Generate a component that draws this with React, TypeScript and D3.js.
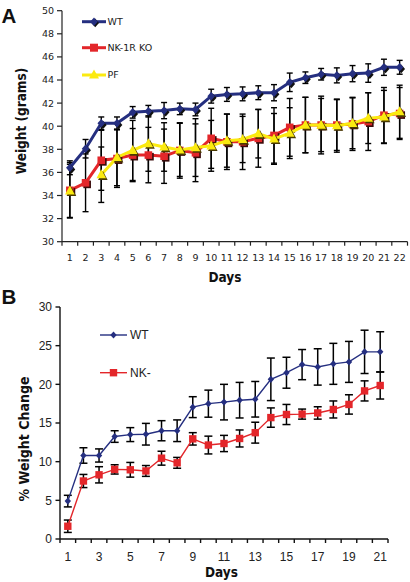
import React from "react";
import * as d3 from "d3";

// ---------- Panel A data (body weight, grams) ----------
const daysA = [1, 2, 3, 4, 5, 6, 7, 8, 9, 10, 11, 12, 13, 14, 15, 16, 17, 18, 19, 20, 21, 22];
const wtA = [36.4, 38.05, 40.25, 40.25, 41.2, 41.3, 41.35, 41.5, 41.45, 42.6, 42.75, 42.8, 42.9, 42.9, 43.8, 44.2, 44.5, 44.4, 44.55, 44.6, 45.1, 45.1];
const wtSdA = [0.6, 0.8, 0.55, 0.55, 0.5, 0.5, 0.7, 0.5, 0.55, 0.6, 0.6, 0.6, 0.6, 0.7, 0.8, 0.5, 0.5, 0.65, 0.7, 0.8, 0.7, 0.6];
const koA = [34.45, 35.1, 37.05, 37.2, 37.5, 37.5, 37.4, 37.9, 37.7, 38.95, 38.65, 38.65, 38.95, 39.2, 39.9, 40.1, 40.1, 40.1, 40.2, 40.4, 40.95, 41.1];
const koSdA = [2.4, 2.5, 2.6, 2.5, 2.3, 2.4, 2.35, 2.4, 2.5, 2.6, 2.4, 2.4, 2.5, 2.4, 2.5, 2.4, 2.5, 2.2, 2.3, 2.5, 2.4, 2.25];
const pfA: (number | null)[] = [34.4, null, 35.8, 37.3, 37.9, 38.5, 38.2, 37.95, 38.15, 38.3, 38.75, 38.85, 39.35, 38.9, 39.4, 40.1, 40.1, 40.05, 40.25, 40.7, 40.8, 41.25];
const pfSdA: (number | null)[] = [2.3, null, 2.4, 2.45, 2.6, 2.4, 2.1, 2.3, 2.5, 2.2, 2.3, 2.0, 2.1, 2.2, 2.2, 2.4, 2.3, 2.3, 2.2, 2.2, 2.3, 2.3];
const yTicksA = [30, 32, 34, 36, 38, 40, 42, 44, 46, 48, 50];

// ---------- Panel B data (% weight change) ----------
const daysB = [1, 2, 3, 4, 5, 6, 7, 8, 9, 10, 11, 12, 13, 14, 15, 16, 17, 18, 19, 20, 21];
const xLabelsB = [1, 3, 5, 7, 9, 11, 13, 15, 17, 19, 21];
const wtB = [4.9, 10.8, 10.8, 13.25, 13.5, 13.55, 14.0, 14.0, 17.05, 17.5, 17.7, 17.95, 18.07, 20.65, 21.5, 22.55, 22.25, 22.65, 22.9, 24.2, 24.2];
const wtSdB = [0.75, 1.0, 0.85, 0.75, 0.9, 1.4, 1.3, 1.4, 1.35, 1.75, 2.3, 2.3, 2.3, 2.75, 2.0, 1.95, 2.35, 2.65, 2.65, 2.8, 2.6];
const koB = [1.65, 7.5, 8.3, 9.0, 8.95, 8.8, 10.45, 9.85, 12.95, 12.15, 12.35, 13.0, 13.75, 15.7, 16.1, 16.15, 16.3, 16.75, 17.4, 19.15, 19.85];
const koSdB = [0.8, 0.85, 1.05, 0.6, 0.95, 0.7, 0.9, 0.7, 0.8, 1.15, 1.05, 1.1, 1.35, 1.25, 1.3, 0.65, 0.8, 1.1, 1.25, 1.3, 1.75];
const yTicksB = [0, 5, 10, 15, 20, 25, 30];

const NAVY = "#252F80";
const RED = "#E3262A";
const YELLOW = "#FBEA10";
const VERD = "'DejaVu Sans', Verdana, sans-serif";
const ARIAL = "'Liberation Sans', Arial, sans-serif";
const NARROW = "'Liberation Sans Narrow', 'DejaVu Sans Condensed', 'Liberation Sans', sans-serif";

const diamond = (cx: number, cy: number, w: number, h: number) =>
  `M${cx},${cy - h}L${cx + w},${cy}L${cx},${cy + h}L${cx - w},${cy}Z`;
const square = (cx: number, cy: number, s: number) =>
  `M${cx - s},${cy - s}H${cx + s}V${cy + s}H${cx - s}Z`;
const triangle = (cx: number, cy: number, w: number, h: number) =>
  `M${cx},${cy - h * 0.6}L${cx + w},${cy + h * 0.4}L${cx - w},${cy + h * 0.4}Z`;

function ErrBars({ xs, ys, sds, y, cap, sw }: { xs: number[]; ys: (number | null)[]; sds: (number | null)[]; y: d3.ScaleLinear<number, number>; cap: number; sw: number }) {
  return (
    <g stroke="#000" strokeWidth={sw} fill="none">
      {ys.map((v, i) => {
        if (v == null || sds[i] == null) return null;
        const x = xs[i];
        const t = y(v + (sds[i] as number));
        const b = y(v - (sds[i] as number));
        return (
          <g key={i}>
            <line x1={x} x2={x} y1={t} y2={b} />
            <line x1={x - cap} x2={x + cap} y1={t} y2={t} />
            <line x1={x - cap} x2={x + cap} y1={b} y2={b} />
          </g>
        );
      })}
    </g>
  );
}

export default function App() {
  // ---- Panel A scales ----
  const xA = d3.scaleBand<number>().domain(daysA).range([62, 407.5]).padding(0);
  const yA = d3.scaleLinear().domain([30, 50]).range([241.7, 10.7]);
  const cxA = daysA.map((d) => (xA(d) as number) + xA.bandwidth() / 2);
  const lineA = d3
    .line<number | null>()
    .defined((v) => v != null)
    .x((_, i) => cxA[i])
    .y((v) => yA(v as number));

  // ---- Panel B scales ----
  const xB = d3.scaleBand<number>().domain(daysB).range([60, 388]).padding(0);
  const yB = d3.scaleLinear().domain([0, 30]).range([539, 307]);
  const cxB = daysB.map((d) => (xB(d) as number) + xB.bandwidth() / 2);
  const lineB = d3
    .line<number>()
    .x((_, i) => cxB[i])
    .y((v) => yB(v));

  const boundsA = [...daysA.map((d) => xA(d) as number), 407.5];
  const boundsB = [...daysB.map((d) => xB(d) as number), 388];
  const sh = 1.6; // marker shadow offset

  return (
    <svg width={410} height={582} style={{ position: "absolute", left: 0, top: 0, background: "#fff" }}>
      {/* ================= Panel A ================= */}
      <text x={1.5} y={22.7} fontFamily={ARIAL} fontWeight="bold" fontSize={20.5} fill="#111">A</text>

      {/* axes */}
      <g stroke="#222" strokeWidth={1.2}>
        <line x1={62} x2={62} y1={yA(50)} y2={yA(30)} />
        <line x1={62} x2={407.5} y1={yA(30)} y2={yA(30)} />
        {yTicksA.map((t) => (
          <line key={t} x1={57} x2={62} y1={yA(t)} y2={yA(t)} />
        ))}
        {boundsA.map((b, i) => (
          <line key={i} x1={b} x2={b} y1={yA(30)} y2={yA(30) + 4} />
        ))}
      </g>
      {yTicksA.map((t) => (
        <text key={t} x={54} y={yA(t)} dy="0.36em" textAnchor="end" fontFamily={VERD} fontSize={9.5} fill="#222">{t}</text>
      ))}
      {daysA.map((d, i) => (
        <text key={d} x={cxA[i]} y={261} textAnchor="middle" fontFamily={VERD} fontSize={9.5} fill="#222">{d}</text>
      ))}
      <text x={225} y={282} textAnchor="middle" fontFamily={NARROW} fontWeight="bold" fontSize={13.5} fill="#111">Days</text>
      <text transform="translate(26,121) rotate(-90)" textAnchor="middle" fontFamily={NARROW} fontWeight="bold" fontSize={13.5} fill="#111">Weight (grams)</text>

      {/* error bars */}
      <ErrBars xs={cxA} ys={wtA} sds={wtSdA} y={yA} cap={3} sw={1.4} />
      <ErrBars xs={cxA} ys={koA} sds={koSdA} y={yA} cap={3} sw={1.4} />
      <ErrBars xs={cxA} ys={pfA} sds={pfSdA} y={yA} cap={3} sw={1.4} />

      {/* WT */}
      <path d={lineA(wtA) || ""} fill="none" stroke={NAVY} strokeWidth={3} />
      {wtA.map((v, i) => (
        <g key={i}>
          <path d={diamond(cxA[i] + sh, yA(v) + sh, 3.8, 4.3)} fill="#111" />
          <path d={diamond(cxA[i], yA(v), 3.8, 4.3)} fill={NAVY} />
        </g>
      ))}
      {/* NK-1R KO */}
      <path d={lineA(koA) || ""} fill="none" stroke={RED} strokeWidth={3} />
      {koA.map((v, i) => (
        <g key={i}>
          <path d={square(cxA[i] + sh, yA(v) + sh, 3.8)} fill="#3a0a0a" />
          <path d={square(cxA[i], yA(v), 3.8)} fill={RED} />
        </g>
      ))}
      {/* PF */}
      <path d={lineA(pfA) || ""} fill="none" stroke={YELLOW} strokeWidth={3} />
      {pfA.map((v, i) =>
        v == null ? null : (
          <g key={i}>
            <path d={triangle(cxA[i] + sh, yA(v) + sh, 4.8, 9)} fill="#4a3a00" />
            <path d={triangle(cxA[i], yA(v), 4.8, 9)} fill={YELLOW} />
          </g>
        )
      )}

      {/* legend A */}
      <g>
        <line x1={82} x2={106} y1={21.7} y2={21.7} stroke={NAVY} strokeWidth={3} />
        <path d={diamond(94 + 1.2, 21.7 + 1.2, 3.8, 4.3)} fill="#111" />
        <path d={diamond(94, 21.7, 3.8, 4.3)} fill={NAVY} />
        <text x={107.5} y={21.7} dy="0.36em" fontFamily={VERD} fontSize={9.5} fill="#222">WT</text>

        <line x1={82} x2={106} y1={47.7} y2={47.7} stroke={RED} strokeWidth={3} />
        <path d={square(94, 47.7, 4)} fill={RED} />
        <text x={107.5} y={47.7} dy="0.36em" fontFamily={VERD} fontSize={9.5} fill="#222">NK-1R KO</text>

        <line x1={82} x2={106} y1={75} y2={75} stroke={YELLOW} strokeWidth={3} />
        <path d={triangle(94, 75, 5, 9)} fill={YELLOW} />
        <text x={107.5} y={75} dy="0.36em" fontFamily={VERD} fontSize={9.5} fill="#222">PF</text>
      </g>

      {/* ================= Panel B ================= */}
      <text x={1.5} y={304} fontFamily={ARIAL} fontWeight="bold" fontSize={20.5} fill="#111">B</text>

      <g stroke="#111" strokeWidth={1.4}>
        <line x1={60} x2={60} y1={yB(30)} y2={yB(0)} />
        <line x1={60} x2={388} y1={yB(0)} y2={yB(0)} />
        {yTicksB.map((t) => (
          <line key={t} x1={55.5} x2={60} y1={yB(t)} y2={yB(t)} />
        ))}
        {boundsB.map((b, i) => (
          <line key={i} x1={b} x2={b} y1={yB(0)} y2={yB(0) + 4} />
        ))}
      </g>
      {yTicksB.map((t) => (
        <text key={t} x={52} y={yB(t)} dy="0.36em" textAnchor="end" fontFamily={ARIAL} fontSize={12} fill="#222">{t}</text>
      ))}
      {xLabelsB.map((d) => (
        <text key={d} x={(xB(d) as number) + xB.bandwidth() / 2} y={561} textAnchor="middle" fontFamily={ARIAL} fontSize={12} fill="#222">{d}</text>
      ))}
      <text x={221.5} y={577} textAnchor="middle" fontFamily={NARROW} fontWeight="bold" fontSize={13.5} fill="#111">Days</text>
      <text transform="translate(29,439) rotate(-90)" textAnchor="middle" fontFamily={NARROW} fontWeight="bold" fontSize={14} fill="#111">% Weight Change</text>

      <ErrBars xs={cxB} ys={wtB} sds={wtSdB} y={yB} cap={4} sw={1.5} />
      <ErrBars xs={cxB} ys={koB} sds={koSdB} y={yB} cap={4} sw={1.5} />

      <path d={lineB(wtB) || ""} fill="none" stroke={NAVY} strokeWidth={1.4} />
      {wtB.map((v, i) => (
        <path key={i} d={diamond(cxB[i], yB(v), 3.2, 3.6)} fill={NAVY} />
      ))}
      <path d={lineB(koB) || ""} fill="none" stroke={RED} strokeWidth={1.4} />
      {koB.map((v, i) => (
        <path key={i} d={square(cxB[i], yB(v), 3.7)} fill={RED} />
      ))}

      {/* legend B */}
      <line x1={100} x2={127} y1={335} y2={335} stroke={NAVY} strokeWidth={1.4} />
      <path d={diamond(113.5, 335, 3.2, 3.6)} fill={NAVY} />
      <text x={130} y={335} dy="0.36em" fontFamily={ARIAL} fontSize={12} fill="#222">WT</text>
      <line x1={100} x2={127} y1={372.7} y2={372.7} stroke={RED} strokeWidth={1.4} />
      <path d={square(113.5, 372.7, 3.7)} fill={RED} />
      <text x={130} y={372.7} dy="0.36em" fontFamily={ARIAL} fontSize={12} fill="#222">NK-</text>
    </svg>
  );
}
